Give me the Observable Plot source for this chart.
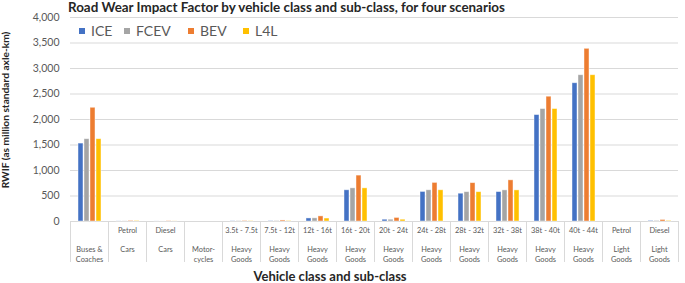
<!DOCTYPE html>
<html><head><meta charset="utf-8">
<script src="https://cdn.jsdelivr.net/npm/d3@7"></script>
<script src="https://cdn.jsdelivr.net/npm/@observablehq/plot@0.6"></script>
<style>
body{margin:0;background:#fff;font-family:Lato,"Noto Sans",sans-serif}
#wrap{position:relative;width:685px;height:283px;overflow:hidden}
#wrap svg{position:absolute;left:0;top:0}
.ov{position:absolute;white-space:nowrap;line-height:1}
.title{left:68px;top:1px;font-weight:bold;font-size:13.4px;color:#262626}
.ylab{left:5px;top:110px;font-weight:bold;font-size:10.2px;color:#262626;transform:translate(-50%,-50%) rotate(-90deg)}
.xlab{left:330px;top:269.5px;font-weight:bold;font-size:13px;color:#262626;transform:translateX(-50%)}
.leg{top:24px;font-size:14px;color:#595959;display:flex;align-items:center}
.leg i{display:inline-block;width:6px;height:6px;margin-right:6px}
</style></head><body><div id="wrap"></div><script>
const categories = ["bus","petrolCar","dieselCar","moto","hg35","hg75","hg12","hg16","hg20","hg24","hg28","hg32","hg38","hg40","petrolLG","dieselLG"];
const subClasses = ["","Petrol","Diesel","","3.5t - 7.5t","7.5t - 12t","12t - 16t","16t - 20t","20t - 24t","24t - 28t","28t - 32t","32t - 38t","38t - 40t","40t - 44t","Petrol","Diesel"];
const classes = ["Buses &\nCoaches","Cars","Cars","Motor-\ncycles","Heavy\nGoods","Heavy\nGoods","Heavy\nGoods","Heavy\nGoods","Heavy\nGoods","Heavy\nGoods","Heavy\nGoods","Heavy\nGoods","Heavy\nGoods","Heavy\nGoods","Light\nGoods","Light\nGoods"];
const series = ["ICE","FCEV","BEV","L4L"];
const ice  = [1528, 2, 1, 0, 4,  8, 60, 612, 35, 580, 545, 577, 2087, 2711, 0, 12];
const fcev = [1614, 3, 1, 0, 5,  9, 62, 650, 35, 612, 575, 610, 2205, 2868, 0, 12];
const bev  = [2230, 12, 5, 0, 10, 20, 100, 900, 70, 757, 752, 807, 2447, 3386, 0, 30];
const l4l  = [1614, 10, 2, 0, 5,  9, 58, 650, 35, 612, 575, 610, 2205, 2868, 0, 12];
const yTicks = [0, 500, 1000, 1500, 2000, 2500, 3000, 3500, 4000];
const colors = ["#4472C4","#A5A5A5","#ED7D31","#FFC000"];
const titleText = "Road Wear Impact Factor by vehicle class and sub-class, for four scenarios";
const yLabel = "RWIF (as million standard axle-km)";
const xLabel = "Vehicle class and sub-class";

const values = [ice, fcev, bev, l4l];
const rows = categories.flatMap((c, i) => series.map((s, j) => ({cat: c, series: s, value: values[j][i]})));
const catRows = categories.map((c, i) => ({cat: c, sub: subClasses[i], cls: classes[i]}));

const plot = Plot.plot({
  width: 685, height: 283,
  marginLeft: 63, marginRight: 0, marginTop: 17, marginBottom: 62,
  style: {fontFamily: "Lato, 'Noto Sans', sans-serif", fontSize: "10.5px", color: "#595959", background: "transparent", overflow: "visible"},
  fx: {domain: categories, padding: 0, axis: null, label: null},
  x: {domain: series, paddingInner: 0.19, paddingOuter: 0.87, axis: null},
  y: {domain: [0, 4000], ticks: yTicks, tickFormat: d3.format(",.0f"), tickSize: 0, tickPadding: 11, label: null},
  color: {domain: series, range: colors},
  marks: [
    Plot.ruleY(yTicks, {stroke: "#d9d9d9", strokeWidth: 1}),
    Plot.barY(rows, {fx: "cat", x: "series", y: "value", fill: "series", stroke: "white", strokeOpacity: 0.55, strokeWidth: 0.8}),
    Plot.text(catRows, {fx: "cat", text: "sub", frameAnchor: "bottom", dy: 11, fill: "#595959", fontSize: 7.4}),
    Plot.text(catRows, {fx: "cat", text: "cls", frameAnchor: "bottom", lineAnchor: "top", dy: 23, lineHeight: 1.35, fill: "#595959", fontSize: 7.4})
  ]
});
const wrap = document.getElementById("wrap");
wrap.appendChild(plot);

// category separators, placed via the plot's own scales
const fx = plot.scale("fx");
const ys = plot.scale("y");
const y0 = ys.apply(0);
const edges = categories.map(c => fx.apply(c)).concat([fx.apply(categories[categories.length - 1]) + fx.bandwidth]);
d3.select(plot).append("g").selectAll("line").data(edges).join("line")
  .attr("x1", d => d + 0.5).attr("x2", d => d + 0.5)
  .attr("y1", y0).attr("y2", y0 + 41)
  .attr("stroke", "#d9d9d9");

function ov(cls, text) { const d = document.createElement("div"); d.className = "ov " + cls; d.textContent = text; wrap.appendChild(d); return d; }
ov("title", titleText);
ov("ylab", yLabel);
ov("xlab", xLabel);
const legLeft = [79, 124, 188, 243];
series.forEach((s, j) => {
  const d = document.createElement("div");
  d.className = "ov leg";
  d.style.left = legLeft[j] + "px";
  const sw = document.createElement("i"); sw.style.background = colors[j];
  d.appendChild(sw); d.appendChild(document.createTextNode(s));
  wrap.appendChild(d);
});
</script></body></html>
